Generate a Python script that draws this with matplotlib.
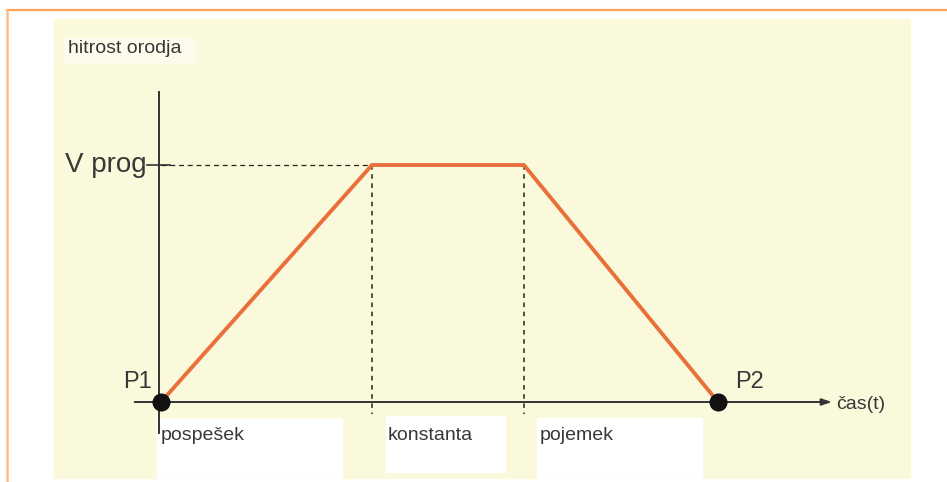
import matplotlib.pyplot as plt
from matplotlib.patches import Rectangle

# data
t_pts = [0.0, 1.0, 1.72, 2.64]      # time of P1, end of accel, start of decel, P2
v_pts = [0.0, 1.0, 1.0, 0.0]        # tool speed, V prog = 1
phase_labels = ['pospešek', 'konstanta', 'pojemek']
point_labels = ['P1', 'P2']

W, H = 947, 482
fig = plt.figure(figsize=(W / 100, H / 100), dpi=100)
plt.rcParams['font.family'] = ['Liberation Sans', 'DejaVu Sans']

# decoration layer in pixel units
bg = fig.add_axes([0, 0, 1, 1])
bg.set_xlim(0, W)
bg.set_ylim(H, 0)
bg.axis('off')
bg.add_patch(Rectangle((54, 19), 856, 459, color='#fbf9db', zorder=0))
bg.plot([7, W], [10, 10], color='#ffa357', lw=1.6)
bg.plot([7, 7], [10, H], color='#ffbb88', lw=1.8)
for x, y, w, h in [(157, 419, 185, 59), (386, 416, 119, 56), (537, 418, 165, 60)]:
    bg.add_patch(Rectangle((x, y), w, h, color='white', zorder=1))
bg.add_patch(Rectangle((64, 38), 130, 25, color='#fcfbec', zorder=1))

# chart layer: pixel x = 161 + 211*t, pixel y = 402 - 237*v
ax = fig.add_axes([0, 0, 1, 1])
ax.patch.set_alpha(0)
ax.set_xlim(-161 / 211, (W - 161) / 211)
ax.set_ylim(-(H - 402) / 237, 402 / 237)
ax.axis('off')

axc = '#333333'
ax.annotate('', xy=(3.18, 0), xytext=(-0.125, 0),
            arrowprops=dict(arrowstyle='-|>,head_length=0.6,head_width=0.2',
                            color=axc, lw=1.4, shrinkA=0, shrinkB=0))
ax.plot([-0.01, -0.01], [-0.13, 1.31], color=axc, lw=1.4)
ax.plot([-0.065, 0.045], [1, 1], color=axc, lw=1.2)

ax.plot([0, t_pts[1]], [1, 1], color='#222222', lw=0.9, ls=(0, (4, 3)))
for t in t_pts[1:3]:
    ax.plot([t, t], [1, -0.05], color='#222222', lw=1.1, ls=(0, (3, 3)))

ax.plot(t_pts, v_pts, color='#e8703a', lw=2.8, solid_capstyle='round', zorder=3)
ax.plot([t_pts[0], t_pts[-1]], [v_pts[0], v_pts[-1]], 'o', color='#111111',
        ms=12, zorder=4)

txt = '#383838'
ax.text(-0.11, 0.04, point_labels[0], fontsize=17, color=txt, ha='center', va='bottom')
ax.text(t_pts[-1] + 0.15, 0.04, point_labels[1], fontsize=17, color=txt, ha='center', va='bottom')
ax.text(-0.07, 1, 'V prog', fontsize=20, color=txt, ha='right', va='center')
ax.text(3.2, -0.01, 'čas(t)', fontsize=14, color=txt, ha='left', va='center')
ax.text(-0.44, 1.49, 'hitrost orodja', fontsize=14, color=txt, ha='left', va='center')
for t, lab in zip([0.0, 1.075, 1.795], phase_labels):
    ax.text(t, -0.14, lab, fontsize=14, color=txt, ha='left', va='center')

fig.savefig('out.png', dpi=100)
